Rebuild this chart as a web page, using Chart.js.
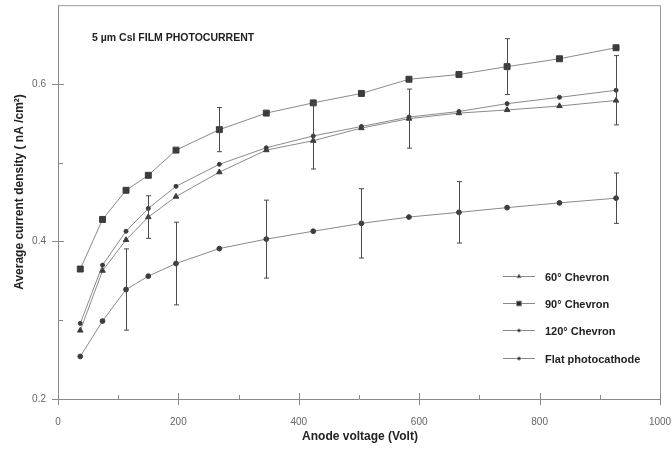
<!DOCTYPE html>
<html>
<head>
<meta charset="utf-8">
<script src="https://cdn.jsdelivr.net/npm/chart.js@4/dist/chart.umd.min.js"></script>
<style>
  html, body { margin: 0; padding: 0; background: #fff; }
  #wrap { width: 672px; height: 454px; }
</style>
</head>
<body>
<div id="wrap"><canvas id="photo-canvas" width="672" height="454"></canvas></div>
<script>
// values
var voltages = [37, 74, 113, 150, 196, 268, 346, 424, 504, 583, 666, 746, 833, 927]
var chevron60 = [0.287, 0.363, 0.402, 0.431, 0.457, 0.488, 0.516, 0.528, 0.544, 0.556, 0.563, 0.567, 0.572, 0.579]
var chevron90 = [0.365, 0.428, 0.465, 0.484, 0.516, 0.542, 0.563, 0.576, 0.588, 0.606, 0.612, 0.622, 0.632, 0.646]
var chevron120 = [0.296, 0.370, 0.413, 0.442, 0.470, 0.498, 0.519, 0.534, 0.546, 0.558, 0.565, 0.575, 0.583, 0.592]
var flatCathode = [0.254, 0.299, 0.339, 0.356, 0.372, 0.391, 0.403, 0.413, 0.423, 0.431, 0.437, 0.443, 0.449, 0.455]

// half-length of error bars (null = no bar)
var err60 = [null, null, null, 0.027, null, null, null, null, null, 0.0375, null, null, null, null]
var err90 = [null, null, null, null, null, 0.028, null, null, null, null, null, 0.0355, null, null]
var err120 = [null, null, null, null, null, null, null, 0.042, null, null, null, null, null, 0.044]
var errFlat = [null, null, 0.0516, null, 0.0525, null, 0.0495, null, 0.044, null, 0.039, null, null, 0.032]

var seriesLabels = ['60\u00B0 Chevron', '90\u00B0 Chevron', '120\u00B0 Chevron', 'Flat photocathode']
var yTickLabels = ['0.2', '0.4', '0.6']
var xTitle = 'Anode voltage (Volt)'
var yTitle = 'Average current density ( nA /cm\u00B2)'
var plotTitle = '5 \u00B5m CsI FILM PHOTOCURRENT'

var FONT = "'Liberation Sans Narrow', 'Liberation Sans', Arial, sans-serif"
var LINE = '#8a8a8a'
var MARK = '#3c3c3c'

function to_points(ys) {
    var pts = []
    for (let i = 0; i < voltages.length; i++) {
        pts.push({ x: voltages[i], y: ys[i] })
    }
    return pts
}

function make_set(label, ys, errs, style, radius) {
    return {
        label: label,
        data: to_points(ys),
        errors: errs,
        borderColor: LINE,
        borderWidth: 1,
        pointStyle: style,
        pointRadius: radius,
        pointBackgroundColor: MARK,
        pointBorderColor: MARK,
        pointBorderWidth: 1,
        tension: 0,
        fill: false
    }
}

var decorations = {
    id: 'decorations',
    afterDatasetsDraw: function (chart) {
        var ctx = chart.ctx
        var xs = chart.scales.x
        var ys = chart.scales.y
        var area = chart.chartArea
        ctx.save()

        // error bars
        ctx.strokeStyle = '#4a4a4a'
        ctx.lineWidth = 1
        chart.data.datasets.forEach(function (ds) {
            for (let i = 0; i < ds.data.length; i++) {
                var e = ds.errors[i]
                if (e === null) continue
                var px = Math.round(xs.getPixelForValue(ds.data[i].x)) + 0.5
                var top = ys.getPixelForValue(ds.data[i].y + e)
                var bot = ys.getPixelForValue(ds.data[i].y - e)
                ctx.beginPath()
                ctx.moveTo(px, top); ctx.lineTo(px, bot)
                ctx.moveTo(px - 2.5, top); ctx.lineTo(px + 2.5, top)
                ctx.moveTo(px - 2.5, bot); ctx.lineTo(px + 2.5, bot)
                ctx.stroke()
            }
        })

        // frame on top and right
        ctx.strokeStyle = '#9a9a9a'
        ctx.beginPath()
        ctx.moveTo(area.left, area.top + 0.5); ctx.lineTo(area.right + 0.5, area.top + 0.5)
        ctx.lineTo(area.right + 0.5, area.bottom)
        ctx.stroke()

        // tick marks
        ctx.strokeStyle = '#8a8a8a'
        ctx.beginPath()
        for (let v = 0; v <= 1000; v += 100) {
            var tx = Math.round(xs.getPixelForValue(v)) + 0.5
            if (v % 200 === 0) {
                ctx.moveTo(tx, area.bottom - 6); ctx.lineTo(tx, area.bottom + 6)
            } else {
                ctx.moveTo(tx, area.bottom - 4); ctx.lineTo(tx, area.bottom)
            }
        }
        for (let k = 2; k <= 6; k++) {
            var ty = Math.round(ys.getPixelForValue(k / 10)) + 0.5
            if (k % 2 === 0) {
                ctx.moveTo(area.left - 6, ty); ctx.lineTo(area.left + 6, ty)
            } else {
                ctx.moveTo(area.left, ty); ctx.lineTo(area.left + 5, ty)
            }
        }
        ctx.stroke()

        // plot title
        ctx.fillStyle = '#222'
        ctx.font = 'bold 10.5px ' + FONT
        ctx.textBaseline = 'middle'
        ctx.textAlign = 'left'
        ctx.fillText(plotTitle, 92, 38)

        // legend
        var rows = [276, 303, 330, 358]
        chart.data.datasets.forEach(function (ds, i) {
            var y = rows[i] + 0.5
            ctx.strokeStyle = LINE
            ctx.beginPath()
            ctx.moveTo(503, y); ctx.lineTo(535, y)
            ctx.stroke()
            Chart.helpers.drawPoint(ctx, {
                pointStyle: ds.pointStyle,
                radius: Math.max(ds.pointRadius - 0.8, 1.5),
                borderWidth: 1
            }, 519, y)
            ctx.fillStyle = '#222'
            ctx.font = 'bold 11px ' + FONT
            ctx.fillText(ds.label, 545, y + 1)
        })

        // axis titles
        ctx.font = 'bold 12px ' + FONT
        ctx.textAlign = 'center'
        ctx.fillText(xTitle, 360, 437)
        ctx.save()
        ctx.translate(20, 192)
        ctx.rotate(-Math.PI / 2)
        ctx.fillText(yTitle, 0, 0)
        ctx.restore()

        ctx.restore()
    }
}

var ctx = document.getElementById('photo-canvas').getContext('2d')
ctx.fillStyle = MARK
ctx.strokeStyle = MARK

var myChart = new Chart(ctx, {
    type: 'line',
    data: {
        datasets: [
            make_set(seriesLabels[0], chevron60, err60, 'triangle', 3.2),
            make_set(seriesLabels[1], chevron90, err90, 'rect', 4.2),
            make_set(seriesLabels[2], chevron120, err120, 'circle', 2),
            make_set(seriesLabels[3], flatCathode, errFlat, 'circle', 2.4)
        ]
    },
    options: {
        responsive: false,
        animation: false,
        layout: { padding: { top: 5, right: 12, left: 0, bottom: 0 } },
        plugins: {
            legend: { display: false },
            tooltip: { enabled: false }
        },
        scales: {
            x: {
                type: 'linear',
                min: 0,
                max: 1000,
                grid: { display: false, drawTicks: false },
                border: { display: true, color: '#8a8a8a' },
                ticks: {
                    stepSize: 100,
                    padding: 17,
                    maxRotation: 0,
                    autoSkip: false,
                    color: '#666',
                    font: { family: FONT, size: 10 },
                    callback: function (v) { return v % 200 === 0 ? String(v) : '' }
                },
                afterFit: function (scale) {
                    scale.height = 55
                    scale.paddingLeft = 0
                    scale.paddingRight = 0
                }
            },
            y: {
                min: 0.2,
                max: 0.7,
                grid: { display: false, drawTicks: false },
                border: { display: true, color: '#8a8a8a' },
                ticks: {
                    stepSize: 0.1,
                    padding: 12,
                    autoSkip: false,
                    color: '#666',
                    font: { family: FONT, size: 10 },
                    callback: function (v) {
                        var k = Math.round(v * 10)
                        return (k % 2 === 0 && k <= 6) ? yTickLabels[k / 2 - 1] : ''
                    }
                },
                afterFit: function (scale) {
                    scale.width = 58
                    scale.paddingTop = 0
                    scale.paddingBottom = 0
                }
            }
        }
    },
    plugins: [decorations]
})
</script>
</body>
</html>
